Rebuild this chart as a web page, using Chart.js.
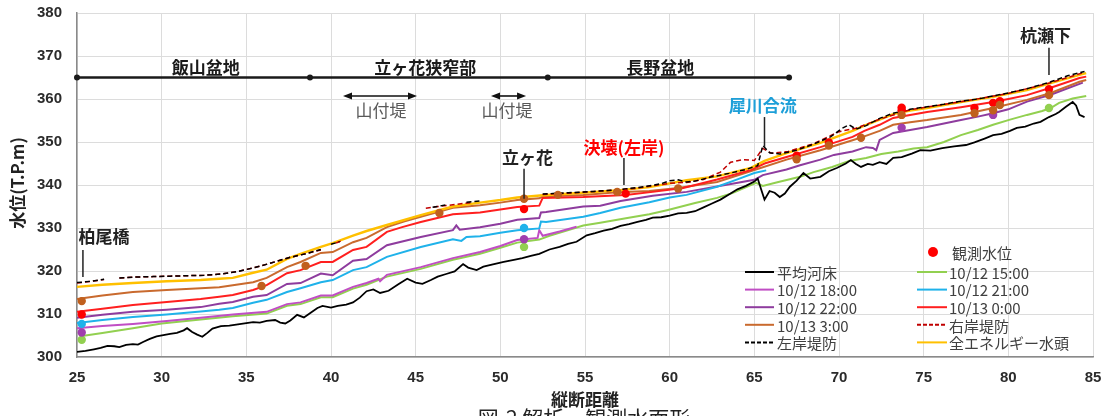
<!DOCTYPE html>
<html lang="ja">
<head>
<meta charset="utf-8">
<title>解析・観測水面形</title>
<script src="https://cdn.jsdelivr.net/npm/chart.js@4.4.1/dist/chart.umd.min.js"></script>
<style>
  html, body { margin: 0; padding: 0; background: #ffffff; }
  #wrap { width: 1107px; height: 416px; position: relative; overflow: hidden; }
</style>
</head>
<body>
<div id="wrap"><canvas id="profile" width="1107" height="416"></canvas></div>
<script>
// ---- axis ticks ----
const xTicks = [25, 30, 35, 40, 45, 50, 55, 60, 65, 70, 75, 80, 85];
const yTicks = [300, 310, 320, 330, 340, 350, 360, 370, 380];

// ---- 平均河床 ----
const bedKm = [25.0,25.5,26.0,26.4,26.8,27.2,27.5,27.9,28.3,28.6,28.9,29.3,29.7,30.1,30.5,30.9,31.3,31.5,31.8,32.1,32.4,32.7,33.0,33.5,34.0,34.5,35.0,35.4,35.8,36.2,36.7,37.0,37.3,37.6,38.0,38.4,38.8,39.2,39.5,40.0,40.4,40.9,41.3,41.7,42.1,42.5,42.9,43.4,44.0,44.5,45.0,45.4,45.9,46.3,46.8,47.3,47.8,48.1,48.6,49.0,49.5,50.2,50.8,51.3,51.8,52.3,52.9,53.5,54.0,54.5,55.1,55.6,56.1,56.6,57.1,57.6,58.1,58.6,59.0,59.5,60.0,60.5,61.0,61.5,62.0,62.5,63.0,63.5,64.0,64.5,65.0,65.2,65.4,65.6,65.9,66.2,66.5,66.8,67.1,67.5,67.9,68.3,68.9,69.4,69.9,70.4,70.7,71.0,71.3,71.7,72.0,72.4,72.8,73.2,73.7,74.3,74.8,75.4,76.1,76.8,77.5,78.0,78.6,79.1,79.6,80.1,80.5,81.0,81.5,81.9,82.4,82.8,83.0,83.4,83.8,84.0,84.2,84.5];
const bedLevel = [301.2,301.4,301.8,302.1,302.6,302.5,302.3,302.8,303.0,302.9,303.5,304.2,304.8,305.1,305.4,305.6,306.2,306.7,305.8,305.2,304.7,305.6,306.6,307.2,307.3,307.6,307.9,308.1,308.0,308.4,308.6,308.0,307.8,308.5,309.8,309.2,310.3,311.4,311.9,311.5,311.9,312.2,312.7,313.8,315.3,315.7,314.9,315.4,317.0,318.2,317.3,317.0,317.9,318.7,319.3,319.9,321.6,320.8,320.2,321.0,321.5,322.1,322.6,323.0,323.5,324.0,325.0,325.6,326.3,326.8,328.3,328.8,329.4,329.8,330.5,330.9,331.4,331.9,332.4,332.5,332.9,333.4,333.5,333.9,334.8,335.7,336.6,337.8,339.0,339.8,340.8,341.5,339.0,336.6,338.6,338.2,337.2,338.0,339.6,341.0,342.8,341.5,341.9,343.2,344.0,345.0,345.8,344.9,344.2,344.9,344.7,345.3,344.9,346.3,346.5,347.3,348.1,348.0,348.6,349.0,349.3,349.9,350.8,351.6,351.9,352.6,353.3,353.6,354.3,354.7,355.8,356.5,357.0,358.2,359.3,358.5,356.3,355.8];

// ---- 10/12 15:00 ----
const h1500Km = [25.3,26.5,28.3,30.0,32.3,34.2,36.2,37.4,38.2,39.4,40.1,41.3,42.1,43.3,45.3,47.2,48.8,50.0,51.0,52.3,52.9,54.9,55.9,57.5,58.8,59.9,61.5,62.8,63.7,65.1,65.5,66.3,67.7,68.5,69.6,70.6,71.6,72.5,73.5,74.4,75.2,76.2,77.2,78.2,79.1,80.1,81.1,82.0,82.5,83.0,83.8,84.6];
const h1500Level = [304.9,305.6,306.7,307.8,308.7,309.5,310.1,311.9,312.3,313.9,313.9,315.9,316.8,318.7,320.5,322.6,324.0,325.4,326.6,327.3,328.2,330.6,331.2,332.3,333.2,334.2,335.8,337.0,338.1,340.5,339.8,340.6,341.9,343.0,344.2,345.6,346.3,347.2,347.8,348.5,348.8,350.0,351.6,352.8,354.0,355.2,356.3,357.2,357.9,359.1,360.1,360.7];

// ---- 10/12 18:00 ----
const h1800Km = [25.0,26.5,28.3,30.3,32.3,34.2,36.2,37.4,38.2,39.4,40.1,41.3,42.1,42.8,42.9,43.3,45.3,47.2,48.8,50.0,51.0,52.2,52.3,52.5,53.5,54.5];
const h1800Level = [306.7,307.2,307.7,308.4,309.1,309.9,310.5,312.3,312.7,314.3,314.3,316.3,317.2,318.2,317.6,319.1,320.9,323.0,324.4,325.8,327.2,327.7,329.5,328.2,329.2,330.3];

// ---- 10/12 21:00 ----
const h2100Km = [25.0,26.5,28.3,30.3,32.3,33.4,34.2,35.4,36.2,37.4,38.2,39.4,40.1,41.3,42.1,43.3,45.3,47.2,47.7,48.0,48.8,50.0,51.0,52.3,52.4,52.7,54.9,55.9,57.1,58.8,60.0,61.0,62.8,64.0,65.0,65.7];
const h2100Level = [307.9,308.6,309.3,309.9,310.6,311.0,311.4,312.6,313.3,315.1,316.0,317.4,317.9,320.2,320.9,323.3,325.6,327.4,327.0,327.9,328.1,328.9,329.5,329.9,331.5,331.4,332.6,333.5,334.7,336.0,337.1,337.7,339.6,341.3,342.8,343.4];

// ---- 10/12 22:00 ----
const h2200Km = [25.0,26.5,28.3,30.3,32.3,33.4,34.2,35.4,36.2,37.4,38.2,39.4,40.1,41.3,42.1,43.3,45.3,47.2,47.4,47.6,48.8,50.0,51.0,52.3,52.4,52.7,54.9,55.9,57.1,59.0,61.0,63.7,65.0,65.5,66.9,67.7,68.9,69.7,70.8,71.6,72.0,72.2,72.4,73.2,74.2,75.2,76.2,77.2,78.2,79.1,80.0,81.1,82.5,84.4];
const h2200Level = [309.1,309.8,310.5,311.0,311.6,312.4,312.8,314.0,314.4,317.0,317.2,319.4,319.0,322.4,322.8,326.0,327.9,329.5,330.6,329.6,330.2,331.0,331.9,332.3,333.6,333.7,335.0,335.2,336.3,337.5,338.4,340.3,341.2,342.3,343.6,344.6,345.9,347.0,347.8,348.8,348.6,348.1,350.5,352.1,352.8,353.5,354.3,355.1,355.9,356.7,357.6,359.4,361.0,363.8];

// ---- 10/13 0:00 ----
const h0000Km = [25.0,26.5,28.3,30.3,32.3,33.4,34.2,35.4,36.2,37.4,38.2,39.4,40.1,41.3,42.1,43.3,44.2,45.3,47.2,48.8,50.0,51.0,52.3,52.5,54.9,57.4,59.0,60.8,62.8,64.8,65.6,66.9,68.9,70.8,71.5,72.4,73.2,74.2,75.2,77.2,79.1,80.0,81.1,82.5,84.2,84.6];
const h0000Level = [310.5,311.2,312.1,312.8,313.5,314.0,314.4,315.6,316.7,319.5,320.2,322.1,322.1,324.9,325.6,329.1,330.2,331.4,333.2,333.6,334.3,334.9,335.2,337.0,337.2,337.7,338.4,339.3,341.3,343.5,345.0,346.5,348.8,351.2,352.6,354.0,355.6,356.3,357.0,358.1,359.3,360.0,360.9,362.6,364.9,365.2];

// ---- 10/13 3:00 ----
const h0300Km = [25.0,26.5,28.3,30.3,32.3,33.4,34.2,35.4,36.2,37.4,38.2,39.4,40.1,41.3,42.1,43.3,44.3,45.3,47.2,48.8,50.0,51.0,52.3,52.5,54.9,56.9,58.8,60.5,62.8,65.0,66.9,68.9,70.8,71.5,72.4,73.2,74.2,75.2,77.2,79.1,81.1,82.5,84.2,84.6];
const h0300Level = [313.5,314.3,315.1,315.6,316.0,316.2,316.7,317.4,318.4,320.9,322.1,324.2,324.4,326.7,327.7,330.2,331.5,332.6,334.7,335.3,335.9,336.5,336.9,337.3,337.7,338.3,338.6,339.3,340.7,343.5,345.9,348.1,350.4,351.3,352.6,354.0,354.6,355.1,356.3,357.9,359.8,361.4,364.0,364.4];

// ---- 右岸堤防 (null = 区間なし) ----
const rightBankKm = [25.0,25.8,26.6,27.0,27.5,28.5,29.5,30.5,31.5,32.5,33.5,34.5,35.5,36.5,37.5,38.5,39.4,39.8,40.3,40.6,41.0,45.6,46.3,47.0,47.8,48.3,49.0,52.5,54.0,56.0,58.0,60.0,61.0,62.0,63.0,63.6,64.3,65.0,65.5,66.0,67.0,68.5,70.0,71.0,72.4,74.2,76.0,76.6,78.0,80.0,82.5,84.5];
const rightBankLevel = [317.2,317.6,318.0,null,318.4,318.6,318.7,318.8,318.9,319.0,319.3,319.9,320.8,321.9,323.1,324.0,324.9,null,326.5,327.0,null,334.6,335.0,335.3,335.7,335.9,null,337.8,338.1,338.6,339.2,340.4,340.6,341.3,343.0,345.3,345.9,345.7,348.5,347.4,347.8,349.6,352.4,353.2,355.3,357.5,358.6,359.0,359.9,361.3,363.8,366.2];

// ---- 左岸堤防 (null = 区間なし) ----
const leftBankKm = [25.0,25.8,26.6,27.0,27.5,28.5,29.5,30.5,31.5,32.5,33.5,34.5,35.5,36.5,37.5,38.5,39.4,39.7,40.0,40.5,41.0,46.0,46.8,47.3,48.0,48.8,49.2,52.5,54.0,55.5,57.0,58.5,59.5,60.0,60.5,61.0,61.5,62.5,63.5,64.5,65.2,65.5,65.9,66.5,67.5,68.5,69.5,70.2,70.6,71.0,71.6,72.4,73.2,74.2,75.2,76.2,77.2,78.2,79.1,80.1,81.1,82.0,82.5,83.5,84.5];
const leftBankLevel = [317.3,317.6,318.1,null,318.4,318.6,318.7,318.8,318.9,319.0,319.3,319.9,320.8,321.9,323.1,324.0,325.0,null,326.2,326.8,null,334.8,335.4,null,336.0,336.3,null,337.9,338.2,338.5,338.9,339.6,340.3,341.0,341.2,340.7,340.9,341.9,342.7,343.6,344.5,349.2,347.5,347.2,348.1,349.5,351.2,353.2,354.0,353.0,353.8,355.5,356.7,357.6,358.2,358.8,359.5,360.0,360.7,361.5,362.4,363.4,364.0,365.4,366.4];

// ---- 全エネルギー水頭 ----
const energyKm = [25.0,26.5,28.3,30.3,32.3,33.4,34.2,35.4,36.2,37.4,38.2,39.4,40.1,41.3,42.1,43.3,45.3,47.2,48.8,50.0,51.0,52.5,54.9,57.1,58.8,61.0,62.8,64.8,65.6,66.9,68.9,70.8,71.5,72.4,73.2,74.2,75.2,77.2,79.1,81.1,82.5,84.2,84.6];
const energyLevel = [316.3,316.8,317.2,317.6,317.9,318.2,318.4,319.6,320.3,322.8,324.0,325.6,326.5,328.2,329.3,330.7,333.0,335.0,335.9,336.5,337.1,337.6,338.2,338.8,339.5,341.1,342.0,344.0,345.6,347.4,349.8,352.6,353.8,355.2,356.5,357.3,357.9,359.3,360.5,362.1,363.7,365.6,366.0];

// ---- 観測水位 (色は時刻に対応) ----
const obs0300Km = [25.28,35.9,38.5,46.4,51.4,53.4,56.9,60.5,67.5,69.4,71.3,73.7,78.0,79.1,79.5,82.4];
const obs0300Level = [313.0,316.5,321.2,333.5,336.8,337.7,338.4,339.2,346.0,349.2,351.0,356.3,356.7,357.4,358.6,360.9];
const obs0000Km = [25.28,51.4,57.4,67.5,69.4,73.7,73.7,78.0,79.1,79.5,82.4];
const obs0000Level = [309.9,334.4,338.0,346.8,349.9,357.4,358.0,357.9,359.1,359.5,362.3];
const obs2100Km = [25.28,51.4];
const obs2100Level = [307.7,330.0];
const obs2200Km = [25.28,51.4,73.7,79.1];
const obs2200Level = [305.7,327.4,353.3,356.3];
const obs1500Km = [25.28,51.4,82.4];
const obs1500Level = [304.0,325.6,357.9];

const pts = (km, lv) => km.map((x, i) => ({ x: x, y: lv[i] }));

const C = {
  bed: '#000000', h1500: '#92d050', h1800: '#c04ec4', h2100: '#1fb2ea',
  h2200: '#8e3c9e', h0000: '#ff1f1f', h0300: '#c96a2e',
  rightBank: '#c00000', leftBank: '#000000', energy: '#ffc000'
};

const lineDs = (label, data, color, width, order, dash) => ({
  type: 'line', label, data, borderColor: color, backgroundColor: color,
  borderWidth: width, pointRadius: 0, pointHoverRadius: 0, tension: 0,
  spanGaps: false, fill: false, order, borderDash: dash || []
});
const dotDs = (label, data, color) => ({
  type: 'scatter', label, data, backgroundColor: color, borderColor: color,
  borderWidth: 0, pointRadius: 4.2, order: 0, showLine: false
});

const datasets = [
  dotDs('観測水位 3:00', pts(obs0300Km, obs0300Level), '#c0601e'),
  dotDs('観測水位', pts(obs0000Km, obs0000Level), '#ff0000'),
  dotDs('観測水位 21:00', pts(obs2100Km, obs2100Level), '#1fb2ea'),
  dotDs('観測水位 22:00', pts(obs2200Km, obs2200Level), '#a03fae'),
  dotDs('観測水位 15:00', pts(obs1500Km, obs1500Level), '#92d050'),
  lineDs('平均河床', pts(bedKm, bedLevel), C.bed, 1.8, 1),
  lineDs('全エネルギー水頭', pts(energyKm, energyLevel), C.energy, 2.4, 3),
  lineDs('左岸堤防', pts(leftBankKm, leftBankLevel), C.leftBank, 1.5, 2, [5, 3]),
  lineDs('右岸堤防', pts(rightBankKm, rightBankLevel), C.rightBank, 1.5, 2, [5, 3]),
  lineDs('10/13 0:00', pts(h0000Km, h0000Level), C.h0000, 2, 4),
  lineDs('10/13 3:00', pts(h0300Km, h0300Level), C.h0300, 2, 5),
  lineDs('10/12 21:00', pts(h2100Km, h2100Level), C.h2100, 2, 6),
  lineDs('10/12 22:00', pts(h2200Km, h2200Level), C.h2200, 2, 7),
  lineDs('10/12 18:00', pts(h1800Km, h1800Level), C.h1800, 2, 8),
  lineDs('10/12 15:00', pts(h1500Km, h1500Level), C.h1500, 2, 9)
];

// 凡例の並び (2列)
const legendRows = [
  ['平均河床', '10/12 15:00'],
  ['10/12 18:00', '10/12 21:00'],
  ['10/12 22:00', '10/13 0:00'],
  ['10/13 3:00', '右岸堤防'],
  ['左岸堤防', '全エネルギー水頭']
];

const CJK = '"Noto Sans CJK JP", "Noto Sans", sans-serif';
const NUM = '"Liberation Sans", Arial, sans-serif';

const legendPlugin = {
  id: 'gridLegend',
  afterDraw(chart) {
    const ctx = chart.ctx;
    const byLabel = {};
    chart.data.datasets.forEach(d => { byLabel[d.label] = d; });
    ctx.save();
    ctx.textBaseline = 'middle';
    ctx.textAlign = 'left';
    ctx.font = '15px ' + CJK;
    ctx.fillStyle = '#404040';
    // 観測水位
    const obs = byLabel['観測水位'];
    ctx.beginPath();
    ctx.arc(933, 252, 5, 0, Math.PI * 2);
    ctx.fillStyle = obs.backgroundColor;
    ctx.fill();
    ctx.fillStyle = '#404040';
    ctx.fillText('観測水位', 952, 253);
    const cols = [{ x0: 745, x1: 774, tx: 777 }, { x0: 917, x1: 947, tx: 949 }];
    legendRows.forEach((row, r) => {
      const y = 272 + r * 17.6;
      row.forEach((label, c) => {
        const d = byLabel[label];
        const col = cols[c];
        ctx.beginPath();
        ctx.setLineDash(d.borderDash && d.borderDash.length ? [4, 2] : []);
        ctx.strokeStyle = d.borderColor;
        ctx.lineWidth = 2;
        ctx.moveTo(col.x0, y);
        ctx.lineTo(col.x1, y);
        ctx.stroke();
        ctx.setLineDash([]);
        ctx.fillStyle = '#404040';
        ctx.fillText(label, col.tx, y + 1);
      });
    });
    ctx.restore();
  }
};

// 区間表示・地点名・軸名
const notePlugin = {
  id: 'notes',
  afterDraw(chart) {
    const ctx = chart.ctx;
    const sx = chart.scales.x, sy = chart.scales.y;
    const px = v => sx.getPixelForValue(v);
    const py = v => sy.getPixelForValue(v);
    ctx.save();

    // 区間ライン
    const yBand = py(365);
    ctx.strokeStyle = '#1a1a1a';
    ctx.lineWidth = 2.5;
    ctx.beginPath();
    ctx.moveTo(px(25), yBand);
    ctx.lineTo(px(67.05), yBand);
    ctx.stroke();
    ctx.fillStyle = '#1a1a1a';
    [25, 38.76, 52.8, 67.05].forEach(k => {
      ctx.beginPath();
      ctx.arc(px(k), yBand, 3, 0, Math.PI * 2);
      ctx.fill();
    });

    ctx.textAlign = 'center';
    ctx.textBaseline = 'middle';
    ctx.font = 'bold 17px ' + CJK;
    ctx.fillStyle = '#1a1a1a';
    ctx.fillText('飯山盆地', px(32.6), py(367.2));
    ctx.fillText('立ヶ花狭窄部', px(45.56), py(367.2));
    ctx.fillText('長野盆地', px(59.44), py(367.2));

    // 山付堤 (両矢印)
    const arrow = (a, b, yv) => {
      const x0 = px(a), x1 = px(b), y = py(yv);
      ctx.strokeStyle = '#111';
      ctx.fillStyle = '#111';
      ctx.lineWidth = 1.6;
      ctx.beginPath();
      ctx.moveTo(x0 + 6, y); ctx.lineTo(x1 - 6, y); ctx.stroke();
      ctx.beginPath();
      ctx.moveTo(x0, y); ctx.lineTo(x0 + 9, y - 3.5); ctx.lineTo(x0 + 9, y + 3.5); ctx.closePath(); ctx.fill();
      ctx.beginPath();
      ctx.moveTo(x1, y); ctx.lineTo(x1 - 9, y - 3.5); ctx.lineTo(x1 - 9, y + 3.5); ctx.closePath(); ctx.fill();
    };
    arrow(40.71, 45.08, 360.7);
    arrow(49.45, 51.52, 360.7);
    ctx.font = '17px ' + CJK;
    ctx.fillStyle = '#595959';
    ctx.fillText('山付堤', px(42.96), py(357.2));
    ctx.fillText('山付堤', px(50.4), py(357.2));

    // 地点名と引出線
    const pointer = (text, color, tx, ty, lx, yTop, yBot) => {
      ctx.font = 'bold 17px ' + CJK;
      ctx.fillStyle = color;
      ctx.fillText(text, px(tx), py(ty));
      ctx.strokeStyle = '#222';
      ctx.lineWidth = 1.5;
      ctx.beginPath();
      ctx.moveTo(px(lx), py(yTop));
      ctx.lineTo(px(lx), py(yBot));
      ctx.stroke();
    };
    pointer('柏尾橋', '#222222', 26.6, 327.9, 25.35, 324.9, 318.6);
    pointer('立ヶ花', '#222222', 51.6, 346.3, 51.4, 343.8, 336.8);
    pointer('決壊(左岸)', '#ff0000', 57.3, 348.8, 57.3, 346.3, 340.0);
    pointer('犀川合流', '#1d9fd8', 65.5, 358.4, 65.6, 355.8, 348.8);
    pointer('杭瀬下', '#222222', 82.2, 374.7, 82.4, 371.9, 365.6);

    // 軸名
    ctx.fillStyle = '#222222';
    ctx.font = 'bold 17px ' + CJK;
    ctx.fillText('縦断距離', (chart.chartArea.left + chart.chartArea.right) / 2, 400);
    ctx.save();
    ctx.translate(18, 183);
    ctx.rotate(-Math.PI / 2);
    ctx.fillText('水位(T.P.m)', 0, 0);
    ctx.restore();

    // 図番号
    ctx.font = '21px ' + CJK;
    ctx.textBaseline = 'top';
    ctx.fillStyle = '#222222';
    ctx.fillText('図-2 解析・観測水面形', 584, 408);

    ctx.restore();
  }
};

new Chart(document.getElementById('profile'), {
  data: { datasets },
  options: {
    responsive: false,
    animation: false,
    devicePixelRatio: 1,
    layout: { autoPadding: false, padding: { left: 0, top: 13, right: 14, bottom: 0 } },
    plugins: { legend: { display: false }, tooltip: { enabled: false } },
    scales: {
      x: {
        type: 'linear', min: 25, max: 85,
        afterBuildTicks: s => { s.ticks = xTicks.map(v => ({ value: v })); },
        afterFit: s => { s.height = 59; s.paddingLeft = 0; s.paddingRight = 0; },
        grid: { color: '#dcdcdc', lineWidth: 1, drawTicks: false },
        border: { display: true, color: '#8a8a8a', width: 1.5 },
        ticks: { padding: 12, color: '#2b2b2b', font: { family: NUM, size: 15, weight: 'bold' } }
      },
      y: {
        type: 'linear', min: 300, max: 380,
        afterBuildTicks: s => { s.ticks = yTicks.map(v => ({ value: v })); },
        afterFit: s => { s.width = 77; s.paddingTop = 0; s.paddingBottom = 0; },
        grid: { color: '#dcdcdc', lineWidth: 1, drawTicks: false },
        border: { display: true, color: '#8a8a8a', width: 1.5 },
        ticks: { padding: 15, color: '#2b2b2b', font: { family: NUM, size: 15, weight: 'bold' } }
      }
    }
  },
  plugins: [legendPlugin, notePlugin]
});
</script>
</body>
</html>
